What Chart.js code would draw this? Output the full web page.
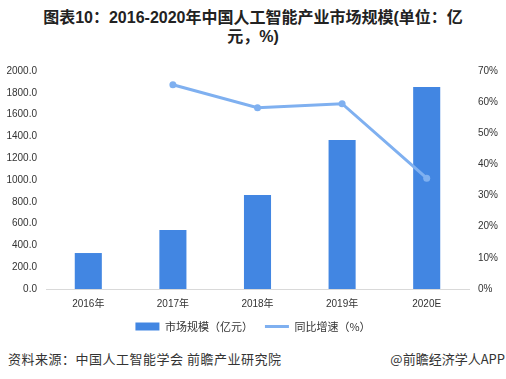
<!DOCTYPE html>
<html><head><meta charset="utf-8">
<script src="https://cdn.jsdelivr.net/npm/chart.js@4/dist/chart.umd.min.js"></script>
<style>
html,body{margin:0;padding:0;background:#fff;}
#wrap{position:relative;width:506px;height:379px;overflow:hidden;font-family:"Liberation Sans","Noto Sans CJK SC",sans-serif;}
#title{position:absolute;left:0;top:8px;width:506px;text-align:center;font-weight:bold;font-size:16px;line-height:19px;color:#222;}
#cv{position:absolute;left:0;top:56px;}
#src{position:absolute;left:8px;top:349px;font-size:13px;color:#333;font-family:"Noto Sans CJK SC",sans-serif;letter-spacing:0.5px;}
#app{position:absolute;right:1px;top:349px;font-size:13px;color:#333;font-family:"Noto Sans CJK SC",sans-serif;}
</style></head>
<body><div id="wrap">
<div id="title">图表10：2016-2020年中国人工智能产业市场规模(单位：亿<br>元，%)</div>
<canvas id="cv" width="506" height="286"></canvas>
<div id="src">资料来源：中国人工智能学会 前瞻产业研究院</div>
<div id="app">@前瞻经济学人APP</div>
</div>
<script>
const categories = ["2016年","2017年","2018年","2019年","2020E"];
const marketSize = [330, 541, 862, 1367, 1853];
const growthRate = [null, 65.6, 58.2, 59.5, 35.6];
const leftTicks = [0,200,400,600,800,1000,1200,1400,1600,1800,2000];
const rightTicks = [0,10,20,30,40,50,60,70];

const tickFont = {family:"'Liberation Sans','Noto Sans CJK SC',sans-serif", size:10};
new Chart(document.getElementById('cv'), {
  data: {
    labels: categories,
    datasets: [
      {type:'bar', label:'市场规模（亿元）', data: marketSize, backgroundColor:'#4286e2', borderWidth:0,
       yAxisID:'y', barPercentage:0.32, categoryPercentage:1, order:2},
      {type:'line', label:'同比增速（%）', data: growthRate, borderColor:'#7fb0f0', backgroundColor:'#7fb0f0',
       borderWidth:3, pointRadius:3.5, pointBackgroundColor:'#7fb0f0', pointBorderWidth:0, yAxisID:'y1', order:1, spanGaps:false}
    ]
  },
  options: {
    responsive:false, animation:false,
    layout:{padding:{left:0,right:0,top:8,bottom:0}},
    plugins:{
      legend:{position:'bottom',
        labels:{usePointStyle:true, pointStyleWidth:24, boxHeight:8, font:{family:"'Noto Sans CJK SC',sans-serif", size:11}, color:'#333', padding:12,
          sort:(a,b)=>a.datasetIndex-b.datasetIndex,
          generateLabels:(chart)=>{
            const items = Chart.defaults.plugins.legend.labels.generateLabels(chart);
            items.forEach(it=>{
              if(it.datasetIndex===0){ it.pointStyle='rect'; it.lineWidth=0; it.strokeStyle='#4286e2'; }
              else { it.pointStyle='line'; it.lineWidth=3; it.strokeStyle='#7fb0f0'; }
            });
            return items;
          }}},
      tooltip:{enabled:false}
    },
    scales:{
      x:{grid:{display:false, drawTicks:false}, border:{display:true, color:'#d9d9d9'},
         afterFit:(a)=>{a.height=a.height-10;},
         ticks:{color:'#333', font:tickFont, padding:9}},
      y:{position:'left', min:0, max:2000, afterBuildTicks:(a)=>{a.ticks=leftTicks.map(v=>({value:v}));},
         afterFit:(a)=>{a.width=46;},
         grid:{display:false, drawTicks:false}, border:{display:false},
         ticks:{color:'#333', font:tickFont, padding:9, callback:v=>Number(v).toFixed(1)}},
      y1:{position:'right', min:0, max:70, afterBuildTicks:(a)=>{a.ticks=rightTicks.map(v=>({value:v}));},
         afterFit:(a)=>{a.width=37;},
         grid:{display:false, drawTicks:false}, border:{display:false},
         ticks:{color:'#333', font:tickFont, padding:9, callback:v=>v+'%'}}
    }
  }
});
</script>
</body></html>
